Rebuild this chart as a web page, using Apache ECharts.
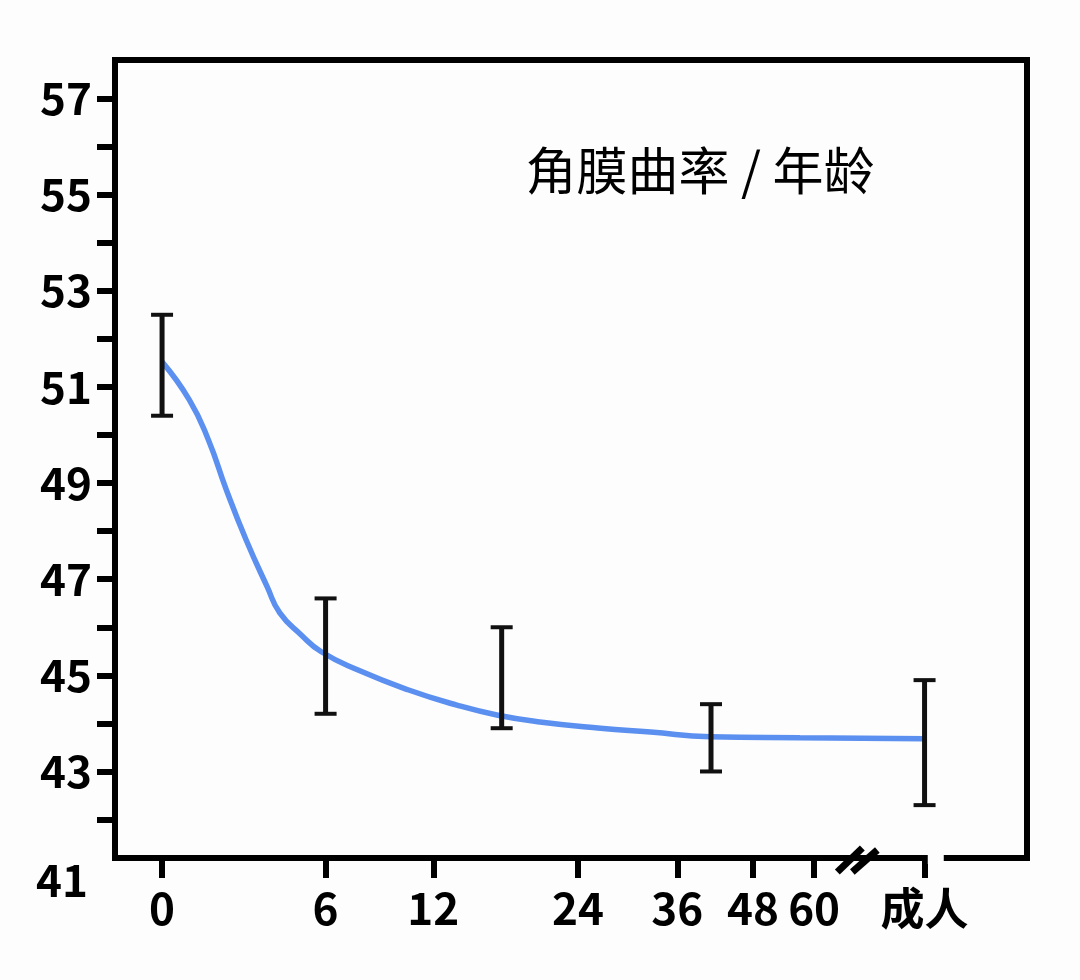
<!DOCTYPE html>
<html>
<head>
<meta charset="utf-8">
<title>角膜曲率/年龄</title>
<script src="https://cdn.jsdelivr.net/npm/echarts@6/dist/echarts.min.js"></script>
<style>
    html, body { margin: 0; padding: 0; background: #fdfdfd; }
    #chart { width: 1080px; height: 980px; }
</style>
</head>
<body>
<div id="chart"></div>
<script>
// 横轴刻度（月龄，最后一格为成人）
var tickAges = [0, 6, 12, 24, 36, 48, 60, '成人'];
// 纵轴刻度
var yTicks = [42, 43, 44, 45, 46, 47, 48, 49, 50, 51, 52, 53, 54, 55, 56, 57];
var yLabels = [43, 45, 47, 49, 51, 53, 55, 57];

// 误差线：月龄、上限、下限
var barAges = [0, 6, 17, 41, '成人'];
var barHigh = [52.5, 46.6, 46.0, 44.4, 44.9];
var barLow = [50.4, 44.2, 43.9, 43.0, 42.3];

// 拟合曲线
var curveAges = [0, 0.8, 1.4, 2.0, 2.7, 3.5, 4.0, 4.9, 5.8, 7.6, 10.4, 13.6, 16.7, 20.3, 26.4, 32.4, 40.9, 57, '成人'];
var curveVals = [51.52, 50.73, 49.90, 48.86, 47.82, 46.84, 46.30, 45.84, 45.49, 45.11, 44.70, 44.38, 44.17, 44.03, 43.90, 43.82, 43.72, 43.70, 43.68];

(function () {
    var myChart = echarts.init(document.getElementById('chart'));

    // 横轴按 log(月龄 + 9) 排布，成人放在断轴之后
    var AGE_SHIFT = 9;
    var ADULT_STEP = 0.345;
    function ageToX(a) {
        if (a === '成人') return Math.log(60 + AGE_SHIFT) + ADULT_STEP;
        return Math.log(a + AGE_SHIFT);
    }
    var xMin = ageToX(0) - 0.147;
    var xMax = ageToX('成人') + 0.32;
    var yMin = 41.2, yMax = 57.8;
    var tickPos = tickAges.map(ageToX);

    var labelFont = {
        fontFamily: 'Noto Sans CJK SC',
        fontWeight: 'bold',
        fontSize: 44,
        color: '#000'
    };
    var blackLine = { color: '#000', width: 6, cap: 'square' };

    var barData = barAges.map(function (a, i) {
        return [ageToX(a), barHigh[i], barLow[i]];
    });
    var curveData = curveAges.map(function (a, i) {
        return [ageToX(a), curveVals[i]];
    });

    var option = {
        backgroundColor: '#fdfdfd',
        animation: false,
        title: {
            text: '角膜曲率 / 年龄',
            left: 695,
            top: 140,
            textAlign: 'center',
            textStyle: {
                fontFamily: 'Noto Sans CJK SC',
                fontWeight: 'normal',
                fontSize: 51,
                color: '#000'
            }
        },
        grid: { left: 115, right: 53, top: 60, bottom: 122 },
        xAxis: [{
            type: 'value',
            min: xMin,
            max: xMax,
            axisLine: { onZero: false, lineStyle: blackLine },
            axisTick: {
                customValues: tickPos,
                length: 20,
                lineStyle: { color: '#000', width: 6 }
            },
            axisLabel: Object.assign({
                customValues: tickPos,
                margin: 28,
                formatter: function (v) {
                    for (var i = 0; i < tickPos.length; i++) {
                        if (Math.abs(tickPos[i] - v) < 1e-6) return String(tickAges[i]);
                    }
                    return '';
                }
            }, labelFont),
            splitLine: { show: false }
        }, {
            type: 'value',
            position: 'top',
            min: xMin,
            max: xMax,
            axisLine: { onZero: false, lineStyle: blackLine },
            axisTick: { show: false },
            axisLabel: { show: false },
            splitLine: { show: false }
        }],
        yAxis: [{
            type: 'value',
            min: yMin,
            max: yMax,
            name: '41',
            nameLocation: 'start',
            nameGap: 22,
            nameTextStyle: Object.assign({
                align: 'right',
                verticalAlign: 'middle',
                padding: [0, 27, 0, 0]
            }, labelFont),
            axisLine: { onZero: false, lineStyle: blackLine },
            axisTick: {
                customValues: yTicks,
                length: 18,
                lineStyle: { color: '#000', width: 6 }
            },
            axisLabel: Object.assign({
                customValues: yLabels,
                margin: 23
            }, labelFont),
            splitLine: { show: false }
        }, {
            type: 'value',
            position: 'right',
            min: yMin,
            max: yMax,
            axisLine: { onZero: false, lineStyle: blackLine },
            axisTick: { show: false },
            axisLabel: { show: false },
            splitLine: { show: false }
        }],
        series: [{
            name: '角膜曲率',
            type: 'line',
            data: curveData,
            smooth: 0.5,
            symbol: 'none',
            lineStyle: { color: '#5b8ff0', width: 5.5 },
            z: 3
        }, {
            name: '误差',
            type: 'custom',
            data: barData,
            encode: { x: 0, y: [1, 2] },
            z: 4,
            renderItem: function (params, api) {
                var top = api.coord([api.value(0), api.value(1)]);
                var bot = api.coord([api.value(0), api.value(2)]);
                var half = 11;
                var st = { stroke: '#111', lineWidth: 5 };
                var cap = { stroke: '#111', lineWidth: 4 };
                return {
                    type: 'group',
                    children: [
                        { type: 'line', shape: { x1: top[0], y1: top[1], x2: bot[0], y2: bot[1] }, style: st },
                        { type: 'line', shape: { x1: top[0] - half, y1: top[1], x2: top[0] + half, y2: top[1] }, style: cap },
                        { type: 'line', shape: { x1: bot[0] - half, y1: bot[1], x2: bot[0] + half, y2: bot[1] }, style: cap }
                    ]
                };
            }
        }, {
            // 断轴标记 // 以及成人刻度右侧的缺口
            name: '断轴',
            type: 'custom',
            data: [[ageToX(60) + 0.135, yMin, ageToX('成人') + 0.035]],
            encode: { x: 0, y: 1 },
            clip: false,
            silent: true,
            z: 5,
            renderItem: function (params, api) {
                var p = api.coord([api.value(0), api.value(1)]);
                var g = api.coord([api.value(2), api.value(1)]);
                var s = { stroke: '#000', lineWidth: 7 };
                return {
                    type: 'group',
                    children: [
                        { type: 'rect', shape: { x: g[0] - 8, y: g[1] - 6, width: 16, height: 12 }, style: { fill: '#fdfdfd' } },
                        { type: 'line', shape: { x1: p[0] - 20, y1: p[1] + 14, x2: p[0] + 5, y2: p[1] - 10 }, style: s },
                        { type: 'line', shape: { x1: p[0] - 5, y1: p[1] + 14, x2: p[0] + 20, y2: p[1] - 8 }, style: s }
                    ]
                };
            }
        }]
    };

    myChart.setOption(option);
    window.addEventListener('resize', function () {
        myChart.resize();
    });
})();
</script>
</body>
</html>
